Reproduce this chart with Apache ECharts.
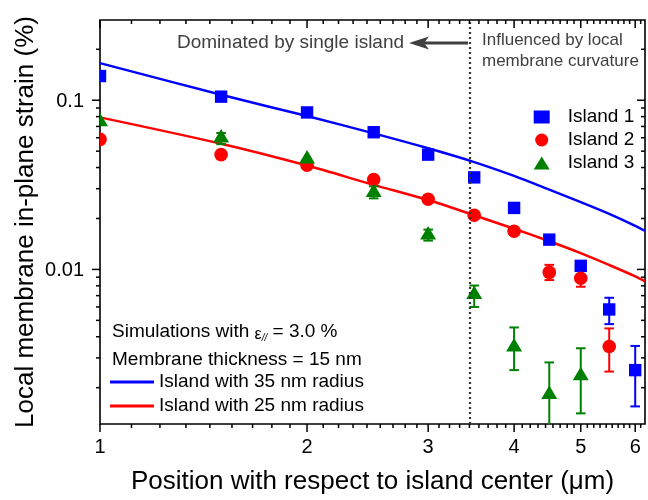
<!DOCTYPE html>
<html><head><meta charset="utf-8">
<script src="https://cdn.jsdelivr.net/npm/echarts@6/dist/echarts.min.js"></script>
<style>html,body{margin:0;padding:0;background:#fff}#c{width:648px;height:500px}</style>
</head><body><div id="c"></div>
<script>
const FONT = '"Liberation Sans", Arimo, Arial, sans-serif';
const X_MIN = 1, X_MAX = 6.2, Y_MIN = 0.00122, Y_MAX = 0.298;

// tick labels
const xMajorTicks = [1, 2, 3, 4, 5, 6];
const xTickLabels = ['1', '2', '3', '4', '5', '6'];
const yMajorTicks = [0.01, 0.1];
const yTickLabels = ['0.01', '0.1'];

// measured data
const island1 = [[1,0.139],[1.5,0.105],[2,0.0847],[2.5,0.0647],[3,0.0477],[3.5,0.035],[4,0.0231],[4.5,0.015],[5,0.0105],[5.5,0.0058],[6,0.00254]];
const island2 = [[1,0.0587],[1.5,0.0477],[2,0.0413],[2.5,0.034],[3,0.026],[3.5,0.0209],[4,0.0168],[4.5,0.0096],[5,0.00886],[5.5,0.0035]];
const island3 = [[1,0.0767],[1.5,0.0614],[2,0.0462],[2.5,0.0293],[3,0.0164],[3.5,0.0073],[4,0.00358],[4.5,0.00187],[5,0.00242]];

// error bars [x, low, high]
const err1 = [[5,0.0098,0.0112],[5.5,0.00475,0.0068],[6,0.00155,0.00353]];
const err2 = [[4.5,0.00865,0.01064],[5,0.0079,0.0099],[5.5,0.00249,0.00448]];
const err3 = [[1.5,0.055,0.064],[2.5,0.0263,0.031],[3,0.0148,0.0172],[3.5,0.0060,0.00803],[4,0.00254,0.00454],[4.5,0.0011,0.00282],[5,0.00141,0.00342]];

// simulation curves
const sim35 = [[1,0.1657],[1.5,0.1077],[2,0.0806],[2.5,0.0637],[3,0.0520],[3.5,0.0431],[4,0.0357],[4.5,0.0296],[5,0.0250],[5.5,0.0213],[6,0.0181],[6.2,0.0169]];
const sim25 = [[1,0.0792],[1.5,0.0553],[2,0.0411],[2.5,0.0316],[3,0.0257],[3.5,0.0209],[4,0.0174],[4.5,0.01468],[5,0.01249],[5.5,0.01062],[6,0.0091],[6.2,0.0085]];

const boundaryX = 3.45;

// tick data: [x, y, kind(0=x,1=y), major, labelIdx]
const tickData = [];
xMajorTicks.forEach((v, i) => tickData.push([v, Y_MIN, 0, 1, i]));
for (let k = 1; k <= 6; k++) for (let j = 1; j <= 8; j++) { const v = k + j / 9; if (v < X_MAX) tickData.push([v, Y_MIN, 0, 0, -1]); }
yMajorTicks.forEach((v, i) => tickData.push([X_MIN, v, 1, 1, i]));
[0.001, 0.01, 0.1].forEach(d => { for (let m = 2; m <= 9; m++) { const v = m * d; if (v > Y_MIN && v < Y_MAX) tickData.push([X_MIN, v, 1, 0, -1]); } });

function renderTick(params, api) {
  const kind = api.value(2), major = api.value(3), idx = api.value(4);
  const st = { stroke: '#000', lineWidth: 1.5 };
  const ch = [];
  if (kind === 0) {
    const v = api.value(0);
    const b = api.coord([v, Y_MIN]), t = api.coord([v, Y_MAX]);
    const len = major ? 8 : 4;
    ch.push({ type: 'line', shape: { x1: b[0], y1: b[1], x2: b[0], y2: b[1] + len }, style: st });
    ch.push({ type: 'line', shape: { x1: t[0], y1: t[1], x2: t[0], y2: t[1] + len }, style: st });
    if (major) ch.push({ type: 'text', style: { text: xTickLabels[idx], x: b[0], y: b[1] + 13, align: 'center', verticalAlign: 'top', font: '20px ' + FONT, fill: '#000' } });
  } else {
    const v = api.value(1);
    const l = api.coord([X_MIN, v]), r = api.coord([X_MAX, v]);
    const len = major ? 8 : 4;
    ch.push({ type: 'line', shape: { x1: l[0] - len, y1: l[1], x2: l[0], y2: l[1] }, style: st });
    ch.push({ type: 'line', shape: { x1: r[0] - len, y1: r[1], x2: r[0], y2: r[1] }, style: st });
    if (major) ch.push({ type: 'text', style: { text: yTickLabels[idx], x: l[0] - 16, y: l[1] + 1, align: 'right', verticalAlign: 'middle', font: '20px ' + FONT, fill: '#000' } });
  }
  return { type: 'group', children: ch };
}

function errSeries(name, data, color) {
  return {
    type: 'custom', name: name + ' err', data: data, z: 3, clip: true, silent: true,
    encode: { x: 0, y: [1, 2] },
    renderItem: function (params, api) {
      const x = api.value(0);
      const lo = api.coord([x, api.value(1)]), hi = api.coord([x, api.value(2)]);
      const w = 4.8;
      const st = { stroke: color, lineWidth: 2 };
      return { type: 'group', children: [
        { type: 'line', shape: { x1: lo[0], y1: lo[1], x2: hi[0], y2: hi[1] }, style: st },
        { type: 'line', shape: { x1: lo[0] - w, y1: lo[1], x2: lo[0] + w, y2: lo[1] }, style: st },
        { type: 'line', shape: { x1: hi[0] - w, y1: hi[1], x2: hi[0] + w, y2: hi[1] }, style: st }
      ] };
    }
  };
}

function markerSeries(name, data, color, shape) {
  return {
    type: 'custom', name: name, data: data, z: 4, clip: true, silent: true,
    itemStyle: { color: color }, encode: { x: 0, y: 1 },
    renderItem: function (params, api) {
      const p = api.coord([api.value(0), api.value(1)]);
      if (shape === 'rect') return { type: 'rect', shape: { x: p[0] - 6.2, y: p[1] - 6.2, width: 12.4, height: 12.4 }, style: { fill: color } };
      if (shape === 'circle') return { type: 'circle', shape: { cx: p[0], cy: p[1], r: 6.8 }, style: { fill: color } };
      return { type: 'polygon', shape: { points: [[p[0], p[1] - 7], [p[0] + 8, p[1] + 6.5], [p[0] - 8, p[1] + 6.5]] }, style: { fill: color } };
    }
  };
}

const BLUE = '#0000ff', RED = '#ff0000', GREEN = '#008000';
const chart = echarts.init(document.getElementById('c'));
chart.setOption({
  animation: false,
  backgroundColor: '#fff',
  grid: { left: 100, right: 3, top: 20, bottom: 72, show: true, borderColor: '#000', borderWidth: 1.6 },
  xAxis: {
    type: 'log', logBase: 10, min: X_MIN, max: X_MAX,
    axisLine: { show: false }, axisTick: { show: false }, axisLabel: { show: false }, splitLine: { show: false },
    name: 'Position with respect to island center (μm)', nameLocation: 'middle', nameGap: 45,
    nameTextStyle: { fontSize: 26, fontFamily: FONT, color: '#000' }
  },
  yAxis: {
    type: 'log', logBase: 10, min: Y_MIN, max: Y_MAX,
    axisLine: { show: false }, axisTick: { show: false }, axisLabel: { show: false }, splitLine: { show: false },
    name: 'Local membrane in-plane strain (%)', nameLocation: 'middle', nameGap: 61,
    nameTextStyle: { fontSize: 26, fontFamily: FONT, color: '#000' }
  },
  legend: [
    {
      data: [{ name: 'Island 1', icon: 'rect' }, { name: 'Island 2', icon: 'circle' }, { name: 'Island 3', icon: 'triangle' }],
      orient: 'vertical', left: 533.7, top: 107.5,
      padding: 0, itemWidth: 16, itemHeight: 13, itemGap: 4, selectedMode: false,
      textStyle: { fontSize: 19, fontFamily: FONT, color: '#000', padding: [0, 0, 0, 13] }
    },
    {
      data: ['Island with 35 nm radius', 'Island with 25 nm radius'], orient: 'vertical', left: 110, top: 372.5,
      padding: 0, itemWidth: 44, itemHeight: 3, itemGap: 5, icon: 'rect', symbolKeepAspect: false, selectedMode: false,
      textStyle: { fontSize: 19, fontFamily: FONT, color: '#000' }
    }
  ],
  graphic: [
    { type: 'text', x: 177, y: 43, style: { text: 'Dominated by single island', font: '19px ' + FONT, fill: '#404040', verticalAlign: 'middle' } },
    { type: 'line', shape: { x1: 422, y1: 43, x2: 468, y2: 43 }, style: { stroke: '#404040', lineWidth: 3 } },
    { type: 'polygon', shape: { points: [[409, 43], [429, 36.5], [424, 43], [429, 49.5]] }, style: { fill: '#404040' } },
    { type: 'text', x: 482, y: 40, style: { text: 'Influenced by local', font: '17px ' + FONT, fill: '#404040', verticalAlign: 'middle' } },
    { type: 'text', x: 482, y: 61, style: { text: 'membrane curvature', font: '17px ' + FONT, fill: '#404040', verticalAlign: 'middle' } },
    { type: 'text', x: 112, y: 332, style: {
        text: 'Simulations with {eps|ε}{sub|//} = 3.0 %', font: '19px ' + FONT, fill: '#000', verticalAlign: 'middle',
        rich: { eps: { fontSize: 16, fontFamily: FONT, verticalAlign: 'bottom', lineHeight: 22 }, sub: { fontSize: 10, fontFamily: FONT, fontStyle: 'italic', verticalAlign: 'bottom', lineHeight: 16 } } } },
    { type: 'text', x: 112, y: 360, style: { text: 'Membrane thickness = 15 nm', font: '19px ' + FONT, fill: '#000', verticalAlign: 'middle' } }
  ],
  series: [
    { type: 'line', name: 'Island with 35 nm radius', data: sim35, smooth: 0.3, symbol: 'none', color: BLUE, lineStyle: { color: BLUE, width: 2.5 }, z: 2,
      markLine: { silent: true, symbol: ['none', 'none'], label: { show: false }, lineStyle: { type: [2, 3], color: '#333', width: 2.2 }, data: [{ xAxis: boundaryX }] } },
    { type: 'line', name: 'Island with 25 nm radius', data: sim25, smooth: 0.3, symbol: 'none', color: RED, lineStyle: { color: RED, width: 2.5 }, z: 2 },
    errSeries('Island 1', err1, BLUE),
    errSeries('Island 2', err2, RED),
    errSeries('Island 3', err3, GREEN),
    markerSeries('Island 1', island1, BLUE, 'rect'),
    markerSeries('Island 2', island2, RED, 'circle'),
    markerSeries('Island 3', island3, GREEN, 'triangle'),
    { type: 'custom', name: 'ticks', data: tickData, renderItem: renderTick, encode: { x: 0, y: 1 }, clip: false, silent: true, z: 6 }
  ]
});
</script></body></html>
